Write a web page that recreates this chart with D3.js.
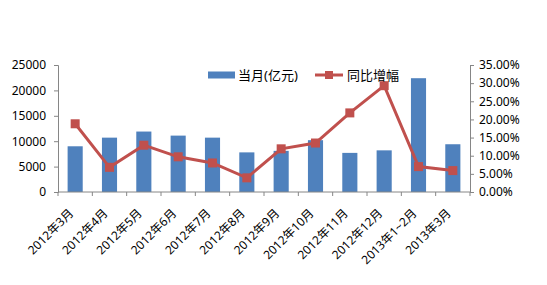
<!DOCTYPE html>
<html lang="zh">
<head>
<meta charset="utf-8">
<title>当月与同比增幅</title>
<script src="https://d3js.org/d3.v7.min.js"></script>
<style>
  body { margin: 0; background: #fff; }
  text { font-family: "Noto Sans", "Noto Sans CJK SC", sans-serif; fill: #000; }
</style>
</head>
<body>
<div id="chart"></div>
<script>
const months = ["2012年3月", "2012年4月", "2012年5月", "2012年6月", "2012年7月", "2012年8月",
                "2012年9月", "2012年10月", "2012年11月", "2012年12月", "2013年1~2月", "2013年3月"];
const amount = [9000, 10700, 11900, 11100, 10700, 7800, 8100, 10200, 7700, 8200, 22400, 9400];
const growth = [18.8, 6.8, 12.9, 9.7, 8.0, 3.9, 11.9, 13.5, 21.8, 29.3, 7.0, 5.9];
const leftTicks = [0, 5000, 10000, 15000, 20000, 25000];
const rightTicks = [0, 5, 10, 15, 20, 25, 30, 35];

const W = 547, H = 285;
const m = { top: 65, right: 77, bottom: 93, left: 58 };

const svg = d3.select("#chart").append("svg")
  .attr("width", W).attr("height", H);

const x = d3.scaleBand().domain(months)
  .range([m.left, W - m.right])
  .paddingInner(0.56).paddingOuter(0.28);
const yL = d3.scaleLinear().domain([0, 25000]).range([H - m.bottom, m.top]);
const yR = d3.scaleLinear().domain([0, 35]).range([H - m.bottom, m.top]);

// bars
svg.append("g").selectAll("rect")
  .data(amount)
  .join("rect")
  .attr("x", (d, i) => x(months[i]))
  .attr("y", d => yL(d))
  .attr("width", x.bandwidth())
  .attr("height", d => yL(0) - yL(d))
  .attr("fill", "#4f81bd");

// axes
const axisColor = "#868686";
const gL = svg.append("g")
  .attr("transform", `translate(${m.left},0)`)
  .call(d3.axisLeft(yL).tickValues(leftTicks).tickSize(4).tickPadding(8).tickFormat(d3.format("d")));
const gR = svg.append("g")
  .attr("transform", `translate(${W - m.right},0)`)
  .call(d3.axisRight(yR).tickValues(rightTicks).tickSize(4).tickPadding(5).tickFormat(d => d.toFixed(2) + "%"));
const step = x.step();
const bounds = d3.range(months.length + 1).map(i => m.left + i * step);
const gX = svg.append("g").attr("transform", `translate(0,${H - m.bottom})`);
gX.append("line").attr("x1", m.left).attr("x2", W - m.right).attr("stroke", axisColor);
gX.selectAll("line.tk").data(bounds).join("line").attr("class", "tk")
  .attr("x1", d => d).attr("x2", d => d).attr("y1", 0).attr("y2", 4).attr("stroke", axisColor);
gX.selectAll("text").data(months).join("text")
  .attr("transform", d => `translate(${x(d) + x.bandwidth() / 2 - 1},${22}) rotate(-45)`)
  .attr("text-anchor", "end")
  .attr("font-size", 12)
  .text(d => d);

[gL, gR].forEach(g => {
  g.select(".domain").attr("stroke", axisColor);
  g.selectAll(".tick line").attr("stroke", axisColor);
  g.selectAll(".tick text").attr("font-size", 12).attr("fill", "#000");
});

// line
const cx = i => x(months[i]) + x.bandwidth() / 2;
const line = d3.line().x((d, i) => cx(i)).y(d => yR(d));
svg.append("path").datum(growth)
  .attr("d", line).attr("fill", "none")
  .attr("stroke", "#c0504d").attr("stroke-width", 3);
svg.append("g").selectAll("rect")
  .data(growth)
  .join("rect")
  .attr("x", (d, i) => cx(i) - 4.5)
  .attr("y", d => yR(d) - 4.5)
  .attr("width", 9).attr("height", 9)
  .attr("fill", "#c0504d");

// legend
const lg = svg.append("g").attr("transform", "translate(208,75)");
lg.append("rect").attr("x", 0).attr("y", -3.5).attr("width", 27).attr("height", 7).attr("fill", "#4f81bd");
lg.append("text").attr("x", 30).attr("y", 5).attr("font-size", 13).text("当月(亿元)");
lg.append("line").attr("x1", 107).attr("x2", 135).attr("stroke", "#c0504d").attr("stroke-width", 3);
lg.append("rect").attr("x", 117).attr("y", -4).attr("width", 8).attr("height", 8).attr("fill", "#c0504d");
lg.append("text").attr("x", 139).attr("y", 5).attr("font-size", 13).text("同比增幅");
</script>
</body>
</html>
